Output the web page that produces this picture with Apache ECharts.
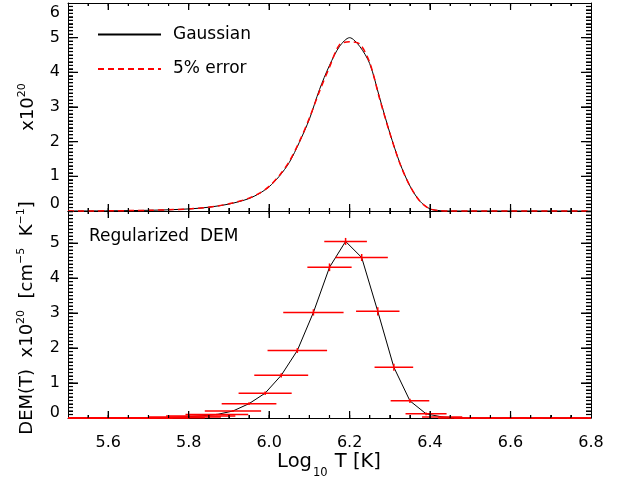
<!DOCTYPE html>
<html><head><meta charset="utf-8">
<script src="https://cdn.jsdelivr.net/npm/echarts@6/dist/echarts.min.js"></script>
<style>html,body{margin:0;padding:0;background:#fff}#c{width:618px;height:482px}</style>
</head><body><div id="c"></div>
<script>
// ---- top panel: Gaussian DEM and 5% error version ----
var logT = [5.50, 5.60, 5.70, 5.75, 5.80, 5.825, 5.85, 5.875, 5.90, 5.925, 5.95, 5.975, 6.00, 6.025, 6.05, 6.075, 6.10, 6.125, 6.15, 6.175, 6.20, 6.225, 6.25, 6.275, 6.30, 6.325, 6.35, 6.375, 6.40, 6.425, 6.45, 6.50, 6.60, 6.70, 6.80];
var gaussian = [0, 0.005, 0.02, 0.035, 0.06, 0.08, 0.11, 0.15, 0.20, 0.27, 0.36, 0.50, 0.70, 1.00, 1.40, 1.98, 2.65, 3.50, 4.20, 4.75, 5.00, 4.75, 4.25, 3.25, 2.25, 1.38, 0.72, 0.28, 0.06, 0.01, 0, 0, 0, 0, 0];
var withError = [0, 0.005, 0.02, 0.035, 0.06, 0.08, 0.11, 0.15, 0.21, 0.28, 0.37, 0.51, 0.71, 1.02, 1.43, 2.00, 2.68, 3.45, 4.15, 4.80, 4.88, 4.82, 4.28, 3.22, 2.24, 1.37, 0.72, 0.28, 0.06, 0.01, 0, 0, 0, 0, 0];

// ---- bottom panel: regularized DEM with errors ----
var demLogT = [5.51, 5.55, 5.59, 5.63, 5.67, 5.71, 5.75, 5.79, 5.83, 5.87, 5.91, 5.95, 5.99, 6.03, 6.07, 6.11, 6.15, 6.19, 6.23, 6.27, 6.31, 6.35, 6.39, 6.43, 6.47, 6.51, 6.55, 6.59, 6.63, 6.67, 6.71, 6.75, 6.79];
var demValue = [0, 0, 0, 0, 0, 0, 0.01, 0.03, 0.06, 0.10, 0.20, 0.41, 0.71, 1.22, 1.93, 3.02, 4.31, 5.05, 4.59, 3.05, 1.45, 0.49, 0.12, 0.03, 0, 0, 0, 0, 0, 0, 0, 0, 0];
var demXErr = [0.09, 0.09, 0.09, 0.09, 0.09, 0.09, 0.09, 0.09, 0.086, 0.078, 0.070, 0.068, 0.066, 0.067, 0.074, 0.075, 0.055, 0.053, 0.065, 0.054, 0.048, 0.048, 0.051, 0.05, 0.05, 0.05, 0.05, 0.05, 0.05, 0.05, 0.05, 0.05, 0.05];
var demYErr = [0.02, 0.02, 0.02, 0.02, 0.02, 0.02, 0.02, 0.02, 0.02, 0.02, 0.03, 0.04, 0.05, 0.06, 0.07, 0.09, 0.11, 0.10, 0.10, 0.12, 0.10, 0.06, 0.04, 0.02, 0.02, 0.02, 0.02, 0.02, 0.02, 0.02, 0.02, 0.02, 0.02];

// ---- axes ----
var xRange = [5.5, 6.8];
var yRangeTop = [0, 6];
var yRangeBottom = [0, 5.92];
var xTickLabels = ['5.6', '5.8', '6.0', '6.2', '6.4', '6.6', '6.8'];
var xMajorTicks = [5.6, 5.8, 6.0, 6.2, 6.4, 6.6];
var xMinorStep = 0.05;
var yMajorTicks = [1, 2, 3, 4, 5];
var yMinorStep = 0.1;

var FONT = 'DejaVu Sans';
var BLACK = '#000000';
var RED = '#ff0000';

function mainX(grid, pos, labels) {
  return {
    type: 'value', gridIndex: grid, position: pos, min: xRange[0], max: xRange[1], splitNumber: 6,
    axisLine: { show: true, onZero: false, lineStyle: { color: BLACK, width: 1 } },
    axisTick: { show: true, inside: true, length: 7, lineStyle: { color: BLACK, width: 1 } },
    minorTick: { show: true, splitNumber: 4, length: 3, lineStyle: { color: BLACK, width: 1 } },
    splitLine: { show: false }, minorSplitLine: { show: false },
    axisLabel: {
      show: !!labels, margin: 17, fontFamily: FONT, fontSize: 16, color: BLACK, showMinLabel: false,
      formatter: function (v) {
        var s = v.toFixed(1);
        return xTickLabels.indexOf(s) >= 0 ? s : '';
      }
    }
  };
}
function mainY(grid, pos, range, labels, loPad) {
  return {
    type: 'value', gridIndex: grid, position: pos, min: range[0], max: range[1], interval: 1,
    axisLine: { show: true, onZero: false, lineStyle: { color: BLACK, width: 1 } },
    axisTick: { show: true, inside: true, length: 10, lineStyle: { color: BLACK, width: 1 } },
    minorTick: { show: true, splitNumber: 10, length: 5, lineStyle: { color: BLACK, width: 1 } },
    splitLine: { show: false }, minorSplitLine: { show: false },
    axisLabel: {
      show: !!labels, margin: 8, fontFamily: FONT, fontSize: 16, color: BLACK,
      formatter: function (v) {
        if (Math.abs(v - Math.round(v)) > 1e-6) return '';
        if (v === 0) return '{lo|0}';
        if (v === 6) return '{hi|6}';
        return String(v);
      },
      rich: {
        lo: { fontFamily: FONT, fontSize: 16, lineHeight: 16, color: BLACK, padding: [0, 0, loPad || 0, 0] },
        hi: { fontFamily: FONT, fontSize: 16, lineHeight: 16, color: BLACK, padding: [20, 0, 0, 0] }
      }
    }
  };
}

// Inward tick marks drawn through the axes' scales (x ticks and y ticks as separate series).
function xTickData(yRange) {
  var d = [], v;
  xMajorTicks.forEach(function (t) { d.push([t, yRange[0], 7]); });
  for (v = xRange[0] + xMinorStep; v < xRange[1] - 1e-9; v += xMinorStep) d.push([+v.toFixed(3), yRange[0], 3]);
  return d;
}
function yTickData(yRange) {
  var d = [], v;
  yMajorTicks.forEach(function (t) { if (t < yRange[1]) d.push([xRange[0], t, 10]); });
  for (v = yRange[0] + yMinorStep; v < yRange[1] - 1e-9; v += yMinorStep) d.push([xRange[0], +v.toFixed(3), 5]);
  return d;
}
function xTickSeries(name, xi, yi, yRange) {
  return {
    type: 'custom', name: name, xAxisIndex: xi, yAxisIndex: yi, z: 6, clip: false,
    data: xTickData(yRange),
    renderItem: function (params, api) {
      var a = api.value(0), len = api.value(2);
      var p = api.coord([a, yRange[0]]), q = api.coord([a, yRange[1]]);
      var st = { stroke: BLACK, lineWidth: 1.2 };
      return { type: 'group', children: [
        { type: 'line', shape: { x1: p[0], y1: p[1], x2: p[0], y2: p[1] - len }, style: st },
        { type: 'line', shape: { x1: q[0], y1: q[1], x2: q[0], y2: q[1] + len }, style: st }
      ] };
    }
  };
}
function yTickSeries(name, xi, yi) {
  return {
    type: 'custom', name: name, xAxisIndex: xi, yAxisIndex: yi, z: 6, clip: false,
    data: yTickData(yi === 0 ? yRangeTop : yRangeBottom),
    renderItem: function (params, api) {
      var b = api.value(1), len = api.value(2);
      var p = api.coord([xRange[0], b]), q = api.coord([xRange[1], b]);
      var st = { stroke: BLACK, lineWidth: 1.2 };
      return { type: 'group', children: [
        { type: 'line', shape: { x1: p[0], y1: p[1], x2: p[0] + len, y2: p[1] }, style: st },
        { type: 'line', shape: { x1: q[0], y1: q[1], x2: q[0] - len, y2: q[1] }, style: st }
      ] };
    }
  };
}

var main = { fontFamily: FONT, fontSize: 18, lineHeight: 22, color: BLACK };
var sup = { fontFamily: FONT, fontSize: 11, lineHeight: 11, color: BLACK, verticalAlign: 'top' };
var subS = { fontFamily: FONT, fontSize: 11.5, lineHeight: 11, color: BLACK, verticalAlign: 'top', padding: [15, 1, 0, 1] };
var mainTop = { fontFamily: FONT, fontSize: 19.5, lineHeight: 22, color: BLACK, verticalAlign: 'top' };

var chart = echarts.init(document.getElementById('c'), null, { renderer: 'canvas' });
chart.setOption({
  animation: false,
  grid: [
    { left: 68, right: 27, top: 3, height: 208, containLabel: false, outerBoundsMode: 'none' },
    { left: 68, right: 27, top: 211, height: 207, containLabel: false, outerBoundsMode: 'none' }
  ],
  xAxis: [mainX(0, 'bottom', false), mainX(0, 'top', false), mainX(1, 'bottom', true), mainX(1, 'top', false)],
  yAxis: [mainY(0, 'left', yRangeTop, true, 14), mainY(0, 'right', yRangeTop, false),
          mainY(1, 'left', yRangeBottom, true, 10), mainY(1, 'right', yRangeBottom, false)],
  legend: {
    data: ['Gaussian', '5% error'], orient: 'vertical', left: 97, top: 26, padding: 0,
    itemWidth: 63, itemHeight: 20, itemGap: 17.4,
    itemStyle: { opacity: 0 },
    textStyle: { fontFamily: FONT, fontSize: 17, color: BLACK, padding: [0, 0, 0, 7] }
  },
  graphic: [
    { type: 'text', x: 28, y: 107, rotation: Math.PI / 2,
      style: { text: '{a|x10}{s|20}', rich: { a: main, s: sup }, align: 'center', verticalAlign: 'middle' } },
    { type: 'text', x: 27, y: 318, rotation: Math.PI / 2,
      style: { text: '{a|DEM(T)  x10}{s|20}{a|  [cm}{s|−5}{a|  K}{s|−1}{a|]}', rich: { a: main, s: sup }, align: 'center', verticalAlign: 'middle' } },
    { type: 'text', x: 329, y: 463,
      style: { text: '{a|Log}{b|10}{a| T [K]}', rich: { a: mainTop, b: subS }, align: 'center', verticalAlign: 'middle' } },
    { type: 'text', x: 89, y: 237,
      style: { text: 'Regularized  DEM', fontFamily: FONT, fontSize: 17, fill: BLACK, align: 'left', verticalAlign: 'middle' } }
  ],
  series: [
    xTickSeries('ticksXTop', 0, 0, yRangeTop),
    yTickSeries('ticksYTop', 0, 0),
    xTickSeries('ticksXBottom', 2, 2, yRangeBottom),
    yTickSeries('ticksYBottom', 2, 2),
    { type: 'line', name: 'Gaussian', xAxisIndex: 0, yAxisIndex: 0,
      data: logT.map(function (x, i) { return [x, gaussian[i]]; }),
      symbol: 'none', smooth: 0.3, clip: false, z: 3,
      lineStyle: { color: BLACK, width: 1 }, itemStyle: { color: BLACK } },
    { type: 'line', name: '5% error', xAxisIndex: 0, yAxisIndex: 0,
      data: logT.map(function (x, i) { return [x, withError[i]]; }),
      symbol: 'none', smooth: 0.3, clip: false, z: 4,
      lineStyle: { color: RED, width: 1.5, type: [6, 4] }, itemStyle: { color: RED } },
    { type: 'line', name: 'DEM', xAxisIndex: 2, yAxisIndex: 2,
      data: demLogT.map(function (x, i) { return [x, demValue[i]]; }),
      symbol: 'none', clip: false, z: 3,
      lineStyle: { color: BLACK, width: 1 }, itemStyle: { color: BLACK } },
    { type: 'custom', name: 'errors', xAxisIndex: 2, yAxisIndex: 2, z: 5, clip: false,
      data: demLogT.map(function (x, i) { return [x, demValue[i], demXErr[i], demYErr[i]]; }),
      renderItem: function (params, api) {
        var x = api.value(0), y = api.value(1), xe = api.value(2), ye = api.value(3);
        var l = api.coord([Math.max(x - xe, xRange[0]), y]);
        var r = api.coord([Math.min(x + xe, xRange[1]), y]);
        var b = api.coord([x, Math.max(y - ye, 0)]);
        var t = api.coord([x, y + ye]);
        var st = { stroke: RED, lineWidth: 1.5 };
        return { type: 'group', children: [
          { type: 'line', shape: { x1: l[0], y1: l[1], x2: r[0], y2: r[1] }, style: st },
          { type: 'line', shape: { x1: b[0], y1: b[1], x2: t[0], y2: t[1] }, style: st }
        ] };
      }
    }
  ]
});
</script></body></html>
